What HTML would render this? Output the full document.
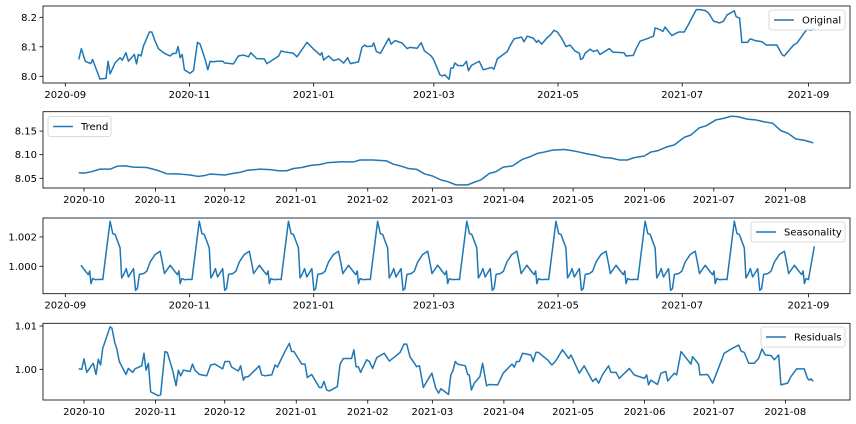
<!DOCTYPE html>
<html><head><meta charset="utf-8"><style>
html,body{margin:0;padding:0;background:#fff;}
svg{display:block;font-family:"DejaVu Sans","Liberation Sans",sans-serif;}
</style></head><body>
<svg id="chart" width="856" height="424" viewBox="0 0 856 424" xmlns="http://www.w3.org/2000/svg"></svg>
<script>
// ---- data (days from 2020-09-01 for panels 1 & 3, days from 2020-10-01 for panels 2 & 4) ----
const origDays = [6.6,7.9,9.8,12.5,13.4,17,20,21,22,24.4,26.9,28,29.8,31,33.9,35,35.9,37.2,38.4,41.3,42.5,44,45.7,48.2,49.8,51.5,52.8,54.4,55.4,56.4,57.4,58.5,61.3,63,64.9,66.2,68.7,70,71.1,72.5,74.4,77.4,78.2,82.6,85,87.5,90,91.1,94,97.7,99,104.8,106,107.5,112,113.8,118.7,122,125.2,126,126.9,129.3,131.8,134.3,136.7,138.7,140,144,145.7,147,148,150.7,151.5,152.8,154.8,158.9,160,162,165.4,167.9,169.2,172.8,174.8,176.4,179.7,181,184,185.3,186.4,188.5,189.4,190.5,191.3,193,195.4,197,198,199.5,203.3,205.3,209.4,210.5,212.2,215.1,217.1,218.4,220.4,224.1,225.3,226.9,229.9,231.5,232.3,234,236.4,238.4,240,241.7,243.8,245.9,247.9,250.3,252.5,253.1,254.1,255.3,257.7,259.4,261.3,262.6,267.2,268.9,274.4,275.4,279,280.4,282.3,285.6,288.9,289.7,292.2,293.5,294.6,297.9,301.2,304,306.1,309.9,311.8,314.3,316,318.4,321.3,323.3,325,328.6,329.5,331.2,332.3,335.1,336.4,338.9,342.2,344.3,349.5,352,353.1,357.7,359.4,364.3,366,367.9];
const origValues = [8.057,8.094,8.051,8.043,8.057,7.991,7.993,8.051,8.008,8.045,8.063,8.055,8.08,8.051,8.074,8.042,8.074,8.069,8.103,8.15,8.15,8.121,8.094,8.08,8.074,8.069,8.077,8.078,8.101,8.063,8.074,8.022,8.01,8.02,8.115,8.109,8.057,8.022,8.051,8.049,8.051,8.051,8.045,8.042,8.069,8.072,8.066,8.08,8.06,8.059,8.043,8.069,8.086,8.083,8.078,8.066,8.115,8.092,8.072,8.08,8.055,8.069,8.053,8.059,8.045,8.063,8.043,8.049,8.098,8.106,8.101,8.102,8.113,8.084,8.078,8.129,8.109,8.121,8.113,8.094,8.098,8.095,8.114,8.086,8.069,8.055,8.005,8.001,8.005,7.99,8.028,8.028,8.045,8.036,8.036,8.051,8.019,8.037,8.051,8.022,8.03,8.024,8.059,8.074,8.084,8.103,8.127,8.133,8.117,8.136,8.129,8.115,8.122,8.109,8.129,8.141,8.156,8.15,8.129,8.101,8.106,8.086,8.078,8.057,8.06,8.078,8.092,8.084,8.089,8.074,8.094,8.082,8.08,8.069,8.071,8.094,8.119,8.127,8.136,8.164,8.158,8.152,8.167,8.138,8.15,8.15,8.176,8.226,8.226,8.223,8.214,8.187,8.181,8.187,8.208,8.222,8.202,8.197,8.115,8.115,8.127,8.121,8.117,8.106,8.106,8.074,8.069,8.106,8.113,8.16,8.156,8.162];

const trendDays = [-2.3,0,3.3,6.9,11.3,14.5,17.8,21.4,27.2,31.5,35.8,41.6,46,49.6,52,54.6,61.1,64.7,67.6,70.5,76.3,81.4,84.2,87.9,90.8,94.4,98,102.3,105.9,111,116.8,119.7,125.4,131.2,134.1,137,140.6,144.2,147.8,151.1,154.7,157.6,161.2,166.3,169.9,172,175.7,178.5,181.7,185.8,190.1,193,196.6,199.5,203.1,208.2,211.8,214.7,218.3,221.9,224.8,228.4,232,235.6,238.5,242.9,245.7,248.6,252.3,255.9,260.2,263.1,266.7,269.6,273.9,277.5,280.4,283.3,287.7,291.3,294.9,298.5,302.1,305,308.6,312.2,316.1];
const trendValues = [8.0618,8.061,8.064,8.0694,8.0694,8.0757,8.0764,8.0736,8.0729,8.0674,8.0597,8.059,8.057,8.054,8.0556,8.059,8.057,8.0604,8.0625,8.0667,8.0694,8.068,8.066,8.066,8.0708,8.0729,8.0771,8.0792,8.0833,8.0847,8.0847,8.0889,8.0889,8.0868,8.0799,8.0764,8.0708,8.0688,8.059,8.0549,8.0465,8.0431,8.0361,8.0361,8.0431,8.0465,8.0604,8.0639,8.0736,8.0764,8.0903,8.0951,8.1028,8.1056,8.1097,8.1111,8.1083,8.1056,8.1014,8.0986,8.0944,8.093,8.0889,8.0889,8.0938,8.0972,8.1056,8.1083,8.116,8.1208,8.1368,8.1417,8.1569,8.1611,8.1736,8.1771,8.1813,8.1806,8.175,8.1736,8.1694,8.1667,8.1507,8.1458,8.1333,8.1306,8.125];

// one seasonal cycle (offset in days from peak), repeated across the series
const seasOffsets = [0,1.3,2.5,4.9,5.7,6.9,7.9,9.0,11.5,12.5,13.4,14.4,16.4,18.0,19.7,22.1,24.6,25.9,26.7,29.5,32.0,33.1,33.8,34.4,35.2,36.4,39.3,40.2];
const seasValues = [1.00307,1.00223,1.00216,1.00125,0.9992,0.9995,0.99984,0.99927,0.99984,0.99836,0.99848,0.99945,0.9995,0.99966,1.0003,1.0008,1.00102,1.00011,0.9995,1.00007,0.99961,0.99943,0.99968,0.99882,0.99916,0.99909,0.99911,0.99909];
const seasPeriod = 43.8;
const seasFirstPeak = 22;
const seasStart = 6.6;
const seasEnd = 367.9;

const resDays = [-2.3,-1,0,1.2,4,5.2,6.2,7.2,8.1,11.3,12.1,13.4,14.2,15.3,18.2,19.2,21.1,22.1,25,26,26.9,27.9,28.9,32.2,33.2,35.1,36.1,38.4,39.9,40.9,41.9,43.1,46,47,48.1,50,53.2,54.9,56.8,60.1,61.1,63,64,66.9,67.9,69.1,69.8,71.2,74.1,76,77,78.5,81.4,82.8,83.8,87.1,89,90,91,94.4,95.8,96.8,98.7,102,103,104,105.2,106.4,109.8,111,112.4,116,117,117.9,118.9,119.9,122.5,123.7,125.1,126.9,130.1,132.4,137,138.7,139.9,141.3,144.2,145.4,147.1,148.6,150.8,152.5,153.7,154.7,158,159,160,160.9,161.9,165.3,166.3,167,167.9,169.2,171.6,172.8,174.5,175.7,179.3,181.7,185.5,186.5,187.5,188.7,190.1,193.7,194.7,195.9,197,200.9,202.8,204.3,207.4,210.1,211.1,214.7,216.8,220.5,221.9,223.1,224.8,227.4,228.4,230.6,232,236.4,238.5,242.9,243.9,244.7,245.7,248.6,250.1,252.2,253,255.9,256.9,258.8,263.1,263.8,266.4,267,270.3,272.5,273.9,277.5,280.9,283.8,284.8,286.2,288.1,290.5,292.4,293.9,295.3,297.8,299.2,301.1,302.1,305,306.4,308.9,312.2,313.6,314.4,315.1,316.1];
const resValues = [1.0001,1.0,1.0024,0.9993,1.0014,0.9988,1.0023,1.001,1.0048,1.0098,1.0095,1.006,1.0048,1.0018,0.9988,1.0002,0.9993,1.0001,1.0008,1.0037,0.9998,1.0014,0.9948,0.9939,0.9941,1.0041,1.0039,0.9998,0.9962,0.9998,0.9985,0.9998,0.9995,1.0012,0.9998,0.9988,0.9985,1.001,1.0012,1.0001,1.0018,1.0018,1.0005,0.9996,1.0008,0.9975,0.9982,0.9983,0.9998,1.0008,0.9987,0.9985,0.9987,1.001,1.0005,1.0041,1.006,1.0041,1.0041,1.0012,1.0012,0.9981,0.9988,0.9958,0.9958,0.9972,0.9952,0.995,0.996,1.0012,1.0025,1.0025,1.0045,1.0006,1.0006,0.9993,1.0022,1.0018,1.0002,1.0027,1.0037,1.0019,1.0039,1.0058,1.0058,1.0029,1.0006,1.0008,0.9958,0.9972,0.9991,0.9956,0.9945,0.9955,0.9942,0.9987,0.9998,1.0018,1.0012,1.0008,0.9988,0.9987,0.9952,0.9968,0.9983,1.0014,0.9962,0.9965,0.9964,0.9991,1.0012,1.0005,1.0018,1.0018,1.0037,1.0033,1.0018,1.0039,1.0039,1.0022,1.001,1.0018,1.0045,1.0025,1.0033,0.9991,1.0008,0.9972,0.9979,0.9968,0.9988,1.0008,0.9993,0.9993,0.9979,1.0002,0.9987,0.9979,0.9987,0.9964,0.9975,0.9965,0.9991,0.9995,0.9973,0.9991,0.9987,1.0041,1.0012,1.0029,1.0012,0.9987,0.9988,0.9968,0.9987,1.0037,1.0048,1.0056,1.0042,1.0039,1.0014,1.0014,1.0025,1.0047,1.0033,1.0032,1.0022,1.0033,0.9964,0.9968,0.9983,1.0001,1.0001,0.9979,0.9975,0.9978,0.9972];

const ticksA = [[0,"2020-09"],[61,"2020-11"],[122,"2021-01"],[181,"2021-03"],[242,"2021-05"],[303,"2021-07"],[365,"2021-09"]];
const ticksB = [[0,"2020-10"],[31,"2020-11"],[61,"2020-12"],[92,"2021-01"],[123,"2021-02"],[151,"2021-03"],[182,"2021-04"],[212,"2021-05"],[243,"2021-06"],[273,"2021-07"],[304,"2021-08"]];

const NS = "http://www.w3.org/2000/svg";
const svg = document.getElementById("chart");
function mk(tag, attrs, parent){const e=document.createElementNS(NS,tag);for(const k in attrs)e.setAttribute(k,attrs[k]);(parent||svg).appendChild(e);return e;}

// build seasonal series by repeating the cycle
const seasDays=[], seasVals=[];
for(let p=seasFirstPeak-seasPeriod; p<seasEnd; p+=seasPeriod){
  for(let i=0;i<seasOffsets.length;i++){
    const d=p+seasOffsets[i];
    if(d>=seasStart && d<=seasEnd){seasDays.push(d);seasVals.push(seasValues[i]);}
  }
}
seasDays.push(seasEnd); seasVals.push(1.00136);

function panel(cfg){
  const g = mk("g",{});
  
  
  const L=43,R=850,T=cfg.top,B=cfg.bottom;
  const xs = d => cfg.x0 + d*cfg.xk;
  const ys = v => B - (v-cfg.ymin)/(cfg.ymax-cfg.ymin)*(B-T);
  // line
  let dstr="";
  cfg.days.forEach((d,i)=>{dstr+=(i?"L":"M")+xs(d).toFixed(2)+","+ys(cfg.vals[i]).toFixed(2);});
  const path = mk("path",{d:dstr,fill:"none",stroke:"#1f77b4","stroke-width":1.5,"stroke-linejoin":"round"},g);
  
  
  // frame
  const fr = mk("rect",{x:L,y:T,width:R-L,height:B-T,fill:"none",stroke:"#000","stroke-width":0.8},g);
  
  
  // x ticks
  cfg.xticks.forEach(t=>{
    const x=xs(t[0]);
    mk("line",{x1:x,x2:x,y1:B,y2:B+3.5,stroke:"#000","stroke-width":0.8},g);
    const tx=mk("text",{x:x,y:B+15,"text-anchor":"middle","font-size":10,fill:"#000"},g);
    tx.textContent=t[1];
    
    
  });
  cfg.yticks.forEach(t=>{
    const y=ys(t[0]);
    mk("line",{x1:L-3.5,x2:L,y1:y,y2:y,stroke:"#000","stroke-width":0.8},g);
    const ty=mk("text",{x:L-6,y:y+3.5,"text-anchor":"end","font-size":10,fill:"#000"},g);
    ty.textContent=t[1];
    
    
  });
  // legend
  const lg=cfg.legend;
  const lgG=mk("g",{},g);
  
  
  mk("rect",{x:lg.x,y:lg.y,width:lg.w,height:20,rx:2.5,fill:"#fff","fill-opacity":0.8,stroke:"#d0d0d0","stroke-width":0.8},lgG);
  mk("line",{x1:lg.x+5,x2:lg.x+25,y1:lg.y+10,y2:lg.y+10,stroke:"#1f77b4","stroke-width":1.5},lgG);
  const lt=mk("text",{x:lg.x+33,y:lg.y+13.5,"font-size":10,fill:"#000"},lgG);
  lt.textContent=lg.text;
}

panel({name:"original-panel",top:6,bottom:83,x0:65.3,xk:2.036,ymin:7.9773,ymax:8.2383,
  days:origDays,vals:origValues,xticks:ticksA,yticks:[[8.0,"8.0"],[8.1,"8.1"],[8.2,"8.2"]],
  legend:{x:769,y:10,w:76,text:"Original"}});
panel({name:"trend-panel",top:111.7,bottom:188,x0:84,xk:2.307,ymin:8.0295,ymax:8.191,
  days:trendDays,vals:trendValues,xticks:ticksB,yticks:[[8.05,"8.05"],[8.10,"8.10"],[8.15,"8.15"]],
  legend:{x:48,y:116.5,w:63,text:"Trend"}});
panel({name:"seasonality-panel",top:218,bottom:293.7,x0:65.3,xk:2.036,ymin:0.99813,ymax:1.00329,
  days:seasDays,vals:seasVals,xticks:ticksA,yticks:[[1.000,"1.000"],[1.002,"1.002"]],
  legend:{x:751,y:222,w:94,text:"Seasonality"}});
panel({name:"residuals-panel",top:323.3,bottom:400,x0:84,xk:2.307,ymin:0.99291,ymax:1.01062,
  days:resDays,vals:resValues,xticks:ticksB,yticks:[[1.00,"1.00"],[1.01,"1.01"]],
  legend:{x:761,y:327,w:84,text:"Residuals"}});
</script>
</body></html>
